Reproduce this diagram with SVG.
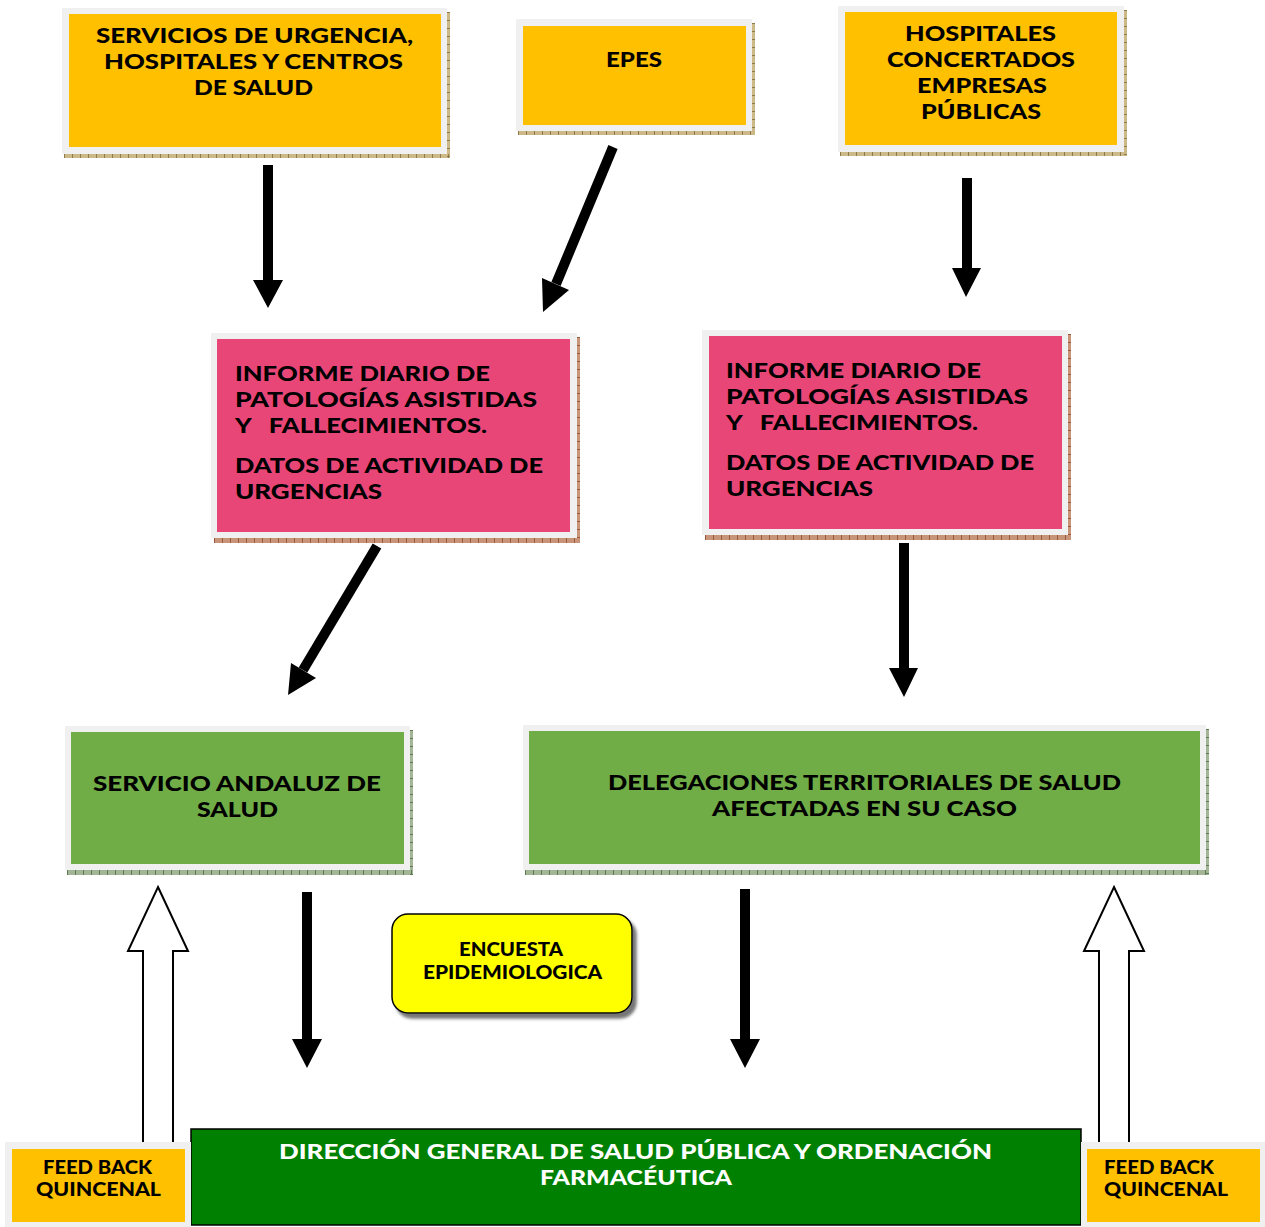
<svg xmlns="http://www.w3.org/2000/svg" width="1265" height="1227" viewBox="0 0 1265 1227">
<defs>
<style>
.t{font-family:"Lato","Liberation Sans",sans-serif;font-weight:900;fill:#000}
.c{text-anchor:middle}
.f24{font-size:21.5px}
.f19{font-size:18px}
.w{fill:#fff}
.frame{fill:#f0f0f0}
.or{fill:#FFC000}
.pk{fill:#E84677}
.gl{fill:#70AD47}
.shO{fill:#CDB887}
.shP{fill:#C9957A}
.shG{fill:#A3B596}
.tkO{stroke:#8E7A4A;stroke-dasharray:1 7}
.tkP{stroke:#9A5A3A;stroke-dasharray:1 7}
.tkG{stroke:#5E7A50;stroke-dasharray:1 7}
.blk{fill:#000}
.hollow{fill:#fff;stroke:#000;stroke-width:2}
</style>
<filter id="sh" x="-5%" y="-5%" width="115%" height="125%">
<feDropShadow dx="4" dy="5" stdDeviation="1.5" flood-color="#555" flood-opacity="0.8"/>
</filter>
</defs>
<rect width="1265" height="1227" fill="#fff"/>

<g id="connectors">
<polygon class="blk" points="263,165 273,165 273,280 283,280 268,308 253,280 263,280"/>
<line x1="613" y1="147" x2="556" y2="284" stroke="#000" stroke-width="10"/>
<polygon class="blk" points="543,312 542,278 569,290"/>
<polygon class="blk" points="962,178 972,178 972,268 981,268 966,297 952,268 962,268"/>
<line x1="377" y1="546" x2="303" y2="670" stroke="#000" stroke-width="10"/>
<polygon class="blk" points="288,695 291,663 316,678"/>
<polygon class="blk" points="899,543 909,543 909,668 918,668 904,697 889,668 899,668"/>
<polygon class="blk" points="302,892 312,892 312,1039 322,1039 307,1068 292,1039 302,1039"/>
<polygon class="blk" points="740,889 750,889 750,1039 760,1039 745,1068 730,1039 740,1039"/>
<polygon class="hollow" points="158,887 188,951 173,951 173,1143 143,1143 143,951 128,951"/>
<polygon class="hollow" points="1114,887 1144,951 1129,951 1129,1143 1099,1143 1099,951 1084,951"/>
</g>

<g id="n-servicios">
<rect class="shO" x="64" y="154" width="386" height="4"/>
<rect class="shO" x="447" y="12" width="3" height="146"/>
<line class="tkO" x1="64" y1="156" x2="450" y2="156" stroke-width="4"/>
<line class="tkO" x1="448.5" y1="12" x2="448.5" y2="158" stroke-width="3"/>
<rect class="frame" x="62" y="8" width="385" height="146"/>
<rect class="or" x="69" y="14" width="372" height="133"/>
<text class="t c f24" x="254.5" y="43" textLength="317" lengthAdjust="spacingAndGlyphs">SERVICIOS DE URGENCIA,</text>
<text class="t c f24" x="253.5" y="69" textLength="299" lengthAdjust="spacingAndGlyphs">HOSPITALES Y CENTROS</text>
<text class="t c f24" x="253.5" y="95" textLength="119" lengthAdjust="spacingAndGlyphs">DE SALUD</text>
</g>

<g id="n-epes">
<rect class="shO" x="518" y="131" width="236" height="4"/>
<rect class="shO" x="752" y="23" width="3" height="112"/>
<line class="tkO" x1="518" y1="133" x2="755" y2="133" stroke-width="4"/>
<line class="tkO" x1="753.5" y1="23" x2="753.5" y2="135" stroke-width="3"/>
<rect class="frame" x="516" y="19" width="236" height="112"/>
<rect class="or" x="523" y="26" width="223" height="99"/>
<text class="t c f24" x="634" y="67" textLength="56" lengthAdjust="spacingAndGlyphs">EPES</text>
</g>

<g id="n-hospitales">
<rect class="shO" x="840" y="152" width="287" height="4"/>
<rect class="shO" x="1124" y="10" width="3" height="146"/>
<line class="tkO" x1="840" y1="154" x2="1127" y2="154" stroke-width="4"/>
<line class="tkO" x1="1125.5" y1="10" x2="1125.5" y2="156" stroke-width="3"/>
<rect class="frame" x="838" y="6" width="286" height="146"/>
<rect class="or" x="845" y="12" width="272" height="133"/>
<text class="t c f24" x="980.5" y="41" textLength="151" lengthAdjust="spacingAndGlyphs">HOSPITALES</text>
<text class="t c f24" x="981" y="67" textLength="188" lengthAdjust="spacingAndGlyphs">CONCERTADOS</text>
<text class="t c f24" x="982" y="93" textLength="130" lengthAdjust="spacingAndGlyphs">EMPRESAS</text>
<text class="t c f24" x="981" y="119" textLength="120" lengthAdjust="spacingAndGlyphs">PÚBLICAS</text>
</g>

<g id="n-informe-1">
<rect class="shP" x="214" y="538" width="366" height="5"/>
<rect class="shP" x="577" y="337" width="3" height="206"/>
<line class="tkP" x1="214" y1="540.5" x2="580" y2="540.5" stroke-width="5"/>
<line class="tkP" x1="578.5" y1="337" x2="578.5" y2="543" stroke-width="3"/>
<rect class="frame" x="211" y="333" width="366" height="205"/>
<rect class="pk" x="217" y="339" width="353" height="193"/>
<text class="t f24" x="235" y="381" textLength="255" lengthAdjust="spacingAndGlyphs">INFORME DIARIO DE</text>
<text class="t f24" x="235" y="407" textLength="302" lengthAdjust="spacingAndGlyphs">PATOLOGÍAS ASISTIDAS</text>
<text class="t f24" x="235" y="433" textLength="252" lengthAdjust="spacingAndGlyphs" xml:space="preserve">Y   FALLECIMIENTOS.</text>
<text class="t f24" x="235" y="473" textLength="308" lengthAdjust="spacingAndGlyphs">DATOS DE ACTIVIDAD DE</text>
<text class="t f24" x="235" y="499" textLength="147" lengthAdjust="spacingAndGlyphs">URGENCIAS</text>
</g>

<g id="n-informe-2">
<rect class="shP" x="705" y="535" width="366" height="5"/>
<rect class="shP" x="1068" y="334" width="3" height="206"/>
<line class="tkP" x1="705" y1="537.5" x2="1071" y2="537.5" stroke-width="5"/>
<line class="tkP" x1="1069.5" y1="334" x2="1069.5" y2="540" stroke-width="3"/>
<rect class="frame" x="702" y="330" width="366" height="205"/>
<rect class="pk" x="709" y="336" width="353" height="193"/>
<text class="t f24" x="726" y="378" textLength="255" lengthAdjust="spacingAndGlyphs">INFORME DIARIO DE</text>
<text class="t f24" x="726" y="404" textLength="302" lengthAdjust="spacingAndGlyphs">PATOLOGÍAS ASISTIDAS</text>
<text class="t f24" x="726" y="430" textLength="252" lengthAdjust="spacingAndGlyphs" xml:space="preserve">Y   FALLECIMIENTOS.</text>
<text class="t f24" x="726" y="470" textLength="308" lengthAdjust="spacingAndGlyphs">DATOS DE ACTIVIDAD DE</text>
<text class="t f24" x="726" y="496" textLength="147" lengthAdjust="spacingAndGlyphs">URGENCIAS</text>
</g>

<g id="n-sas">
<rect class="shG" x="67" y="870" width="346" height="5"/>
<rect class="shG" x="410" y="730" width="3" height="145"/>
<line class="tkG" x1="67" y1="872.5" x2="413" y2="872.5" stroke-width="5"/>
<line class="tkG" x1="411.5" y1="730" x2="411.5" y2="875" stroke-width="3"/>
<rect class="frame" x="65" y="726" width="345" height="144"/>
<rect class="gl" x="71" y="732" width="333" height="132"/>
<text class="t c f24" x="237" y="791" textLength="288" lengthAdjust="spacingAndGlyphs">SERVICIO ANDALUZ DE</text>
<text class="t c f24" x="237.5" y="817" textLength="81" lengthAdjust="spacingAndGlyphs">SALUD</text>
</g>

<g id="n-delegaciones">
<rect class="shG" x="525" y="870" width="684" height="5"/>
<rect class="shG" x="1206" y="729" width="3" height="146"/>
<line class="tkG" x1="525" y1="872.5" x2="1209" y2="872.5" stroke-width="5"/>
<line class="tkG" x1="1207.5" y1="729" x2="1207.5" y2="875" stroke-width="3"/>
<rect class="frame" x="523" y="725" width="683" height="145"/>
<rect class="gl" x="529" y="731" width="671" height="133"/>
<text class="t c f24" x="864.5" y="790" textLength="513" lengthAdjust="spacingAndGlyphs">DELEGACIONES TERRITORIALES DE SALUD</text>
<text class="t c f24" x="864.5" y="816" textLength="305" lengthAdjust="spacingAndGlyphs">AFECTADAS EN SU CASO</text>
</g>

<g id="n-encuesta">
<rect x="392" y="914" width="240" height="99" rx="16" ry="16" fill="#FFFF00" stroke="#000" stroke-width="1.5" filter="url(#sh)"/>
<text class="t c f19" x="511" y="956" textLength="104" lengthAdjust="spacingAndGlyphs">ENCUESTA</text>
<text class="t c f19" x="512.5" y="979" textLength="179" lengthAdjust="spacingAndGlyphs">EPIDEMIOLOGICA</text>
</g>

<g id="n-direccion">
<rect x="191" y="1129" width="890" height="96" fill="#008000" stroke="#000" stroke-width="1.5"/>
<text class="t c f24 w" x="635.5" y="1159" textLength="713" lengthAdjust="spacingAndGlyphs">DIRECCIÓN GENERAL DE SALUD PÚBLICA Y ORDENACIÓN</text>
<text class="t c f24 w" x="636" y="1185" textLength="192" lengthAdjust="spacingAndGlyphs">FARMACÉUTICA</text>
</g>

<g id="n-feedback-left">
<rect class="frame" x="5" y="1142" width="186" height="85"/>
<rect class="or" x="12" y="1149" width="173" height="73"/>
<text class="t c f19" x="97.5" y="1174" textLength="109" lengthAdjust="spacingAndGlyphs">FEED BACK</text>
<text class="t c f19" x="98.5" y="1196" textLength="125" lengthAdjust="spacingAndGlyphs">QUINCENAL</text>
</g>

<g id="n-feedback-right">
<rect class="frame" x="1081" y="1142" width="184" height="85"/>
<rect class="or" x="1087" y="1149" width="173" height="73"/>
<text class="t f19" x="1104" y="1174" textLength="110" lengthAdjust="spacingAndGlyphs">FEED BACK</text>
<text class="t f19" x="1104" y="1196" textLength="124" lengthAdjust="spacingAndGlyphs">QUINCENAL</text>
</g>
</svg>
